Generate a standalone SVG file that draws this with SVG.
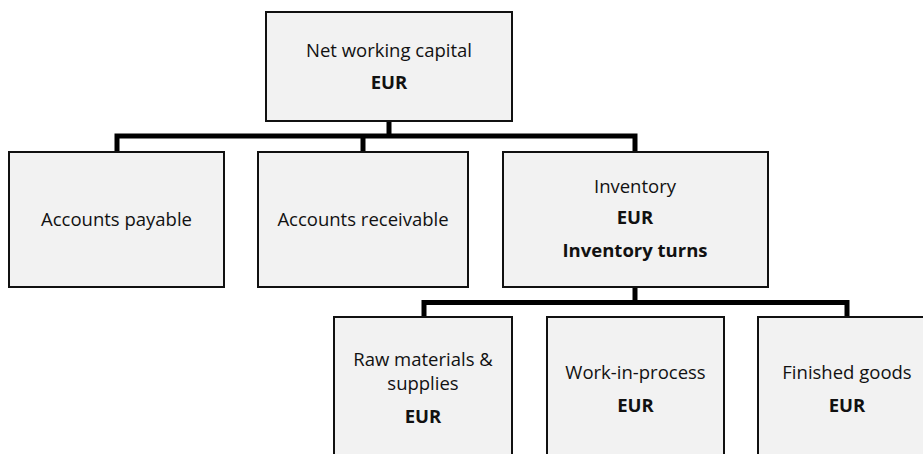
<svg xmlns="http://www.w3.org/2000/svg" width="923" height="454" viewBox="0 0 923 454">
  <style>
    .box { fill: #f2f2f2; stroke: #111; stroke-width: 2; }
    .wire { fill: none; stroke: #000; stroke-width: 5; stroke-linejoin: miter; }
    text { font-family: "Open Sans", "Liberation Sans", sans-serif; font-size: 18.5px; fill: #111; text-anchor: middle; }
    .b { font-weight: bold; }
  </style>
  <rect width="923" height="454" fill="#fff"/>

  <!-- connectors -->
  <g id="connectors">
    <path class="wire" d="M389 121 V136"/>
    <path class="wire" d="M117 152 V136 H635 V152"/>
    <path class="wire" d="M363 136 V152"/>
    <path class="wire" d="M635 287 V302.5"/>
    <path class="wire" d="M424 317 V302.5 H847 V317"/>
  </g>

  <g id="net-working-capital">
    <rect class="box" x="266" y="12" width="246" height="109"/>
    <text x="389" y="57">Net working capital</text>
    <text class="b" x="389" y="89">EUR</text>
  </g>

  <g id="accounts-payable">
    <rect class="box" x="9" y="152" width="215" height="135"/>
    <text x="116.5" y="226">Accounts payable</text>
  </g>

  <g id="accounts-receivable">
    <rect class="box" x="258" y="152" width="210" height="135"/>
    <text x="363" y="226">Accounts receivable</text>
  </g>

  <g id="inventory">
    <rect class="box" x="503" y="152" width="265" height="135"/>
    <text x="635" y="193">Inventory</text>
    <text class="b" x="635" y="224">EUR</text>
    <text class="b" x="635" y="257">Inventory turns</text>
  </g>

  <g id="raw-materials">
    <rect class="box" x="334" y="317" width="178" height="150"/>
    <text x="423" y="366">Raw materials &amp;</text>
    <text x="423" y="390">supplies</text>
    <text class="b" x="423" y="423">EUR</text>
  </g>

  <g id="work-in-process">
    <rect class="box" x="547" y="317" width="177" height="150"/>
    <text x="635.5" y="379">Work-in-process</text>
    <text class="b" x="635.5" y="412">EUR</text>
  </g>

  <g id="finished-goods">
    <rect class="box" x="758" y="317" width="178" height="150"/>
    <text x="847" y="379">Finished goods</text>
    <text class="b" x="847" y="412">EUR</text>
  </g>
</svg>
